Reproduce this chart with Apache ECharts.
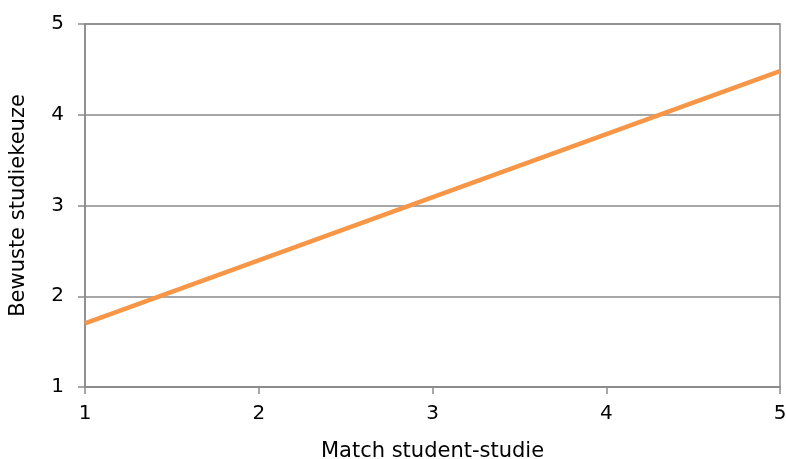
<!DOCTYPE html>
<html>
<head>
<meta charset="utf-8">
<script src="https://cdn.jsdelivr.net/npm/echarts@6/dist/echarts.min.js"></script>
<style>
  html, body { margin: 0; padding: 0; background: #fff; }
  #chart { width: 786px; height: 459px; }
</style>
</head>
<body>
<div id="chart"></div>
<script>
// regression line: match student-studie vs bewuste studiekeuze
var matchX = [1, 5];
var keuzeY = [1.70, 4.48];
var axisTicks = [1, 2, 3, 4, 5];

var gridGrey = '#8a8a8a';
var font = 'DejaVu Sans, Verdana, sans-serif';

var lineData = matchX.map(function (x, i) { return [x, keuzeY[i]]; });

var option = {
    animation: false,
    grid: {
        left: 85, top: 24, right: 6, bottom: 72,
        containLabel: false,
        outerBoundsMode: 'none',
        show: true,
        borderColor: gridGrey,
        borderWidth: 1.5,
        backgroundColor: 'transparent'
    },
    xAxis: {
        type: 'value',
        min: axisTicks[0], max: axisTicks[axisTicks.length - 1], interval: 1,
        name: 'Match student-studie',
        nameLocation: 'middle',
        nameGap: 54,
        nameTextStyle: { fontFamily: font, fontSize: 21, color: '#000' },
        axisLine: { show: true, lineStyle: { color: gridGrey, width: 1.5 } },
        axisTick: { show: true, length: 7, lineStyle: { color: gridGrey, width: 1.5 } },
        axisLabel: { fontFamily: font, fontSize: 20, color: '#000', margin: 17 },
        splitLine: { show: false }
    },
    yAxis: {
        type: 'value',
        min: axisTicks[0], max: axisTicks[axisTicks.length - 1], interval: 1,
        name: 'Bewuste studiekeuze',
        nameLocation: 'middle',
        nameGap: 56,
        nameTextStyle: { fontFamily: font, fontSize: 21, color: '#000' },
        axisLine: { show: true, lineStyle: { color: gridGrey, width: 1.5 } },
        axisTick: { show: true, length: 7, lineStyle: { color: gridGrey, width: 1.5 } },
        axisLabel: { fontFamily: font, fontSize: 20, color: '#000', margin: 21 },
        splitLine: { show: true, lineStyle: { color: gridGrey, width: 1.5 } }
    },
    series: [
        {
            type: 'line',
            data: lineData,
            symbol: 'none',
            lineStyle: { color: '#f79646', width: 4.5 }
        }
    ]
};

var chart = echarts.init(document.getElementById('chart'));
chart.setOption(option);
</script>
</body>
</html>
